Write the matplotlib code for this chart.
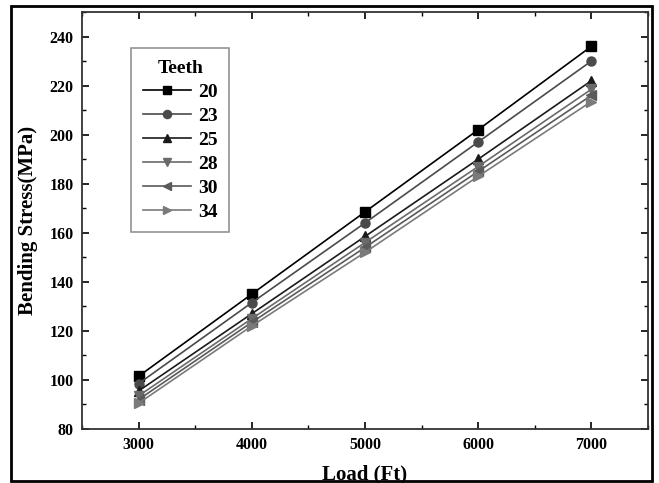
import numpy as np
import matplotlib.pyplot as plt
from matplotlib.patches import Rectangle
from matplotlib.ticker import MultipleLocator

# data
load = [3000, 4000, 5000, 6000, 7000]
teeth = ['20', '23', '25', '28', '30', '34']
s20 = [101.5, 135, 168.5, 202, 236]
s23 = [98.5, 131.5, 164, 197, 230]
s25 = [95.5, 127, 158.5, 190, 222]
s28 = [93.5, 125, 156, 187, 218.5]
s30 = [92, 123.5, 154, 185, 216]
s34 = [90.5, 122, 152, 183, 213.5]

series = [s20, s23, s25, s28, s30, s34]
markers = ['s', 'o', '^', 'v', '<', '>']
colors = ['#000000', '#4a4a4a', '#1a1a1a', '#6a6a6a', '#5a5a5a', '#7a7a7a']

plt.rcParams['font.family'] = 'Liberation Serif'
plt.rcParams['font.weight'] = 'bold'

fig = plt.figure(figsize=(6.59, 4.83), dpi=100)
ax = fig.add_axes([0.1244, 0.1118, 0.8589, 0.8634])

for vals, m, c, t in zip(series, markers, colors, teeth):
    ax.plot(load, vals, marker=m, color=c, markersize=6.5, linewidth=1.2, label=t)

ax.set_xlim(2500, 7500)
ax.set_ylim(80, 250)
ax.set_xticks([3000, 4000, 5000, 6000, 7000])
ax.set_yticks(np.arange(80, 241, 20))
ax.xaxis.set_minor_locator(MultipleLocator(500))
ax.yaxis.set_minor_locator(MultipleLocator(10))
ax.tick_params(which='both', direction='in', top=True, right=True, labelsize=11.5)
ax.tick_params(which='major', length=5, width=1.2, pad=6)
ax.tick_params(which='minor', length=3, width=1)
for sp in ax.spines.values():
    sp.set_linewidth(1.3)
    sp.set_color('#333333')

ax.set_xlabel('Load (Ft)', fontsize=15, fontweight='bold', labelpad=8)
ax.set_ylabel('Bending Stress(MPa)', fontsize=15, fontweight='bold', labelpad=8)

leg = ax.legend(title='Teeth', loc='upper left', bbox_to_anchor=(0.0866, 0.914),
                borderaxespad=0, fancybox=False, fontsize=14, title_fontsize=14,
                handlelength=2.5, handletextpad=0.35, labelspacing=0.33, borderpad=0.6,
                markerscale=0.9)
leg.get_title().set_fontweight('bold')
leg.get_frame().set_edgecolor('#777777')
leg.get_frame().set_linewidth(1.2)

# outer frame around the figure
fig.patches.append(Rectangle((0.016, 0.004), 0.973, 0.984, transform=fig.transFigure,
                             fill=False, edgecolor='black', linewidth=2))

fig.savefig('out.png', dpi=100)
